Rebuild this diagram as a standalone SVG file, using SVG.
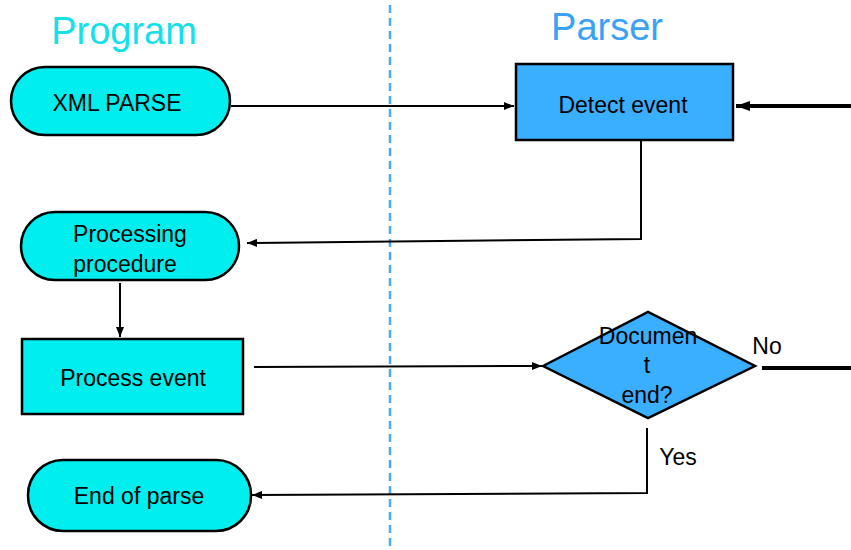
<svg xmlns="http://www.w3.org/2000/svg" width="851" height="550" viewBox="0 0 851 550">
  <defs>
    <marker id="arr" viewBox="0 0 10 8" refX="10" refY="4" markerWidth="10" markerHeight="8" markerUnits="userSpaceOnUse" orient="auto">
      <path d="M0,0 L10,4 L0,8 Z" fill="#000"/>
    </marker>
    <marker id="arrBig" viewBox="0 0 14 10" refX="14" refY="5" markerWidth="14" markerHeight="10" markerUnits="userSpaceOnUse" orient="auto">
      <path d="M0,0 L14,5 L0,10 Z" fill="#000"/>
    </marker>
  </defs>
  <style>
    .title { font-family: "Liberation Sans", Arial, sans-serif; font-size: 38px; text-anchor: middle; }
    .lbl { font-family: "Liberation Sans", Arial, sans-serif; font-size: 23px; fill: #000; text-anchor: middle; }
    .term { fill: #00EEEE; stroke: #000; stroke-width: 2.5; }
    .proc { stroke: #000; stroke-width: 2.5; }
    .conn { fill: none; stroke: #000; stroke-width: 2; }
    .thick { fill: none; stroke: #000; stroke-width: 4; }
  </style>
  <rect width="851" height="550" fill="#fff"/>

  <!-- lane titles and divider -->
  <text class="title" x="124" y="44" fill="#12e0ea">Program</text>
  <text class="title" x="607" y="40" fill="#3aa2f6">Parser</text>
  <line x1="390" y1="5" x2="390" y2="550" stroke="#4aaaf5" stroke-width="2.5" stroke-dasharray="8,5"/>

  <!-- connectors -->
  <g id="connectors">
    <line class="conn" x1="231" y1="106" x2="514" y2="106" marker-end="url(#arr)"/>
    <line class="thick" x1="851" y1="106" x2="736" y2="106" marker-end="url(#arrBig)"/>
    <polyline class="conn" points="641,141 641,239 247,243" marker-end="url(#arr)"/>
    <line class="conn" x1="120" y1="283" x2="120" y2="337" marker-end="url(#arr)"/>
    <line class="conn" x1="254" y1="367" x2="542" y2="366" marker-end="url(#arr)"/>
    <line class="thick" x1="762" y1="368" x2="851" y2="368"/>
    <polyline class="conn" points="647,428 647,493 252,495" marker-end="url(#arr)"/>
  </g>

  <g id="xml-parse">
    <rect class="term" x="11" y="67" width="219" height="68" rx="34" ry="34"/>
    <text class="lbl" x="117" y="111">XML PARSE</text>
  </g>

  <g id="detect-event">
    <rect class="proc" x="516" y="64" width="217" height="76" fill="#3aaeff"/>
    <text class="lbl" x="623" y="113">Detect event</text>
  </g>

  <g id="processing-procedure">
    <rect class="term" x="21" y="212" width="218" height="68" rx="34" ry="34"/>
    <text class="lbl" x="130" y="242">Processing</text>
    <text class="lbl" x="125" y="272">procedure</text>
  </g>

  <g id="process-event">
    <rect class="proc" x="22" y="339" width="221" height="75" fill="#00EEEE"/>
    <text class="lbl" x="133" y="386">Process event</text>
  </g>

  <g id="document-end">
    <polygon class="proc" points="543,366 648,312 755,366 648,418" fill="#3aaeff"/>
    <text class="lbl" x="648" y="344">Documen</text>
    <text class="lbl" x="647" y="373">t</text>
    <text class="lbl" x="647" y="403">end?</text>
  </g>
  <text class="lbl" x="767" y="354">No</text>
  <text class="lbl" x="678" y="465">Yes</text>

  <g id="end-of-parse">
    <rect class="term" x="28" y="460" width="223" height="71" rx="35" ry="35"/>
    <text class="lbl" x="139" y="504">End of parse</text>
  </g>
</svg>
